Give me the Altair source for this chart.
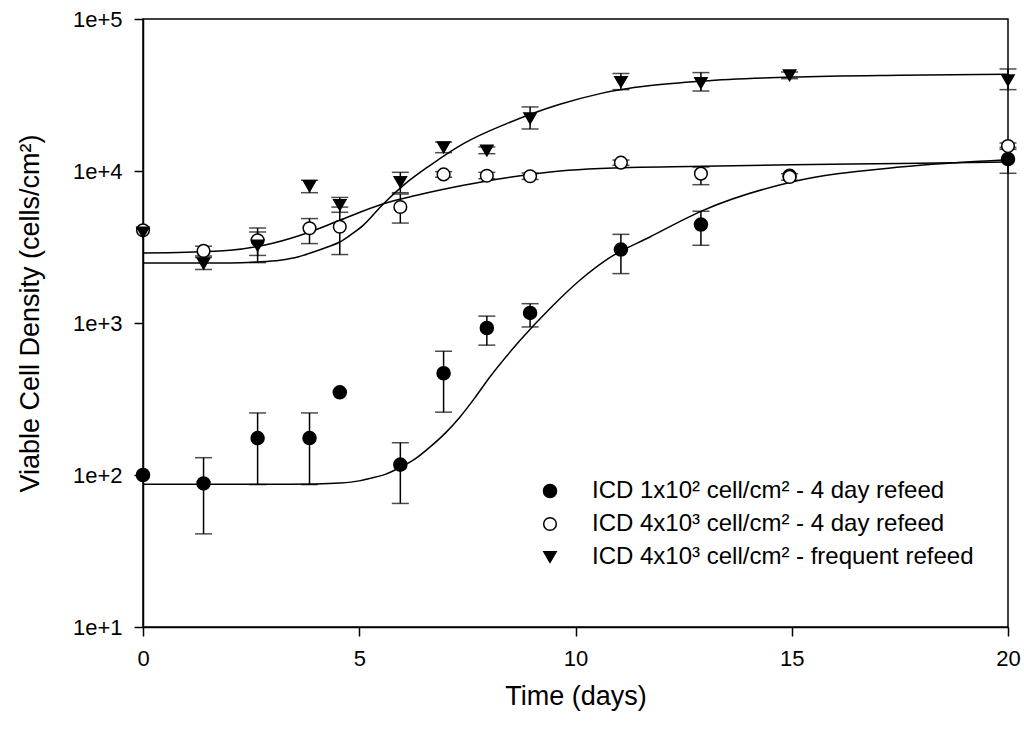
import altair as alt
import pandas as pd

# ---- data ----
series_names = [
    "ICD 1x10² cell/cm² - 4 day refeed",
    "ICD 4x10³ cell/cm² - 4 day refeed",
    "ICD 4x10³ cell/cm² - frequent refeed",
]

days = [0, 1.4, 2.65, 3.85, 4.55, 5.95, 6.95, 7.95, 8.95, 11.05, 12.9, 14.95, 20]

dens_a = [100, 88, 175, 175, 350, 117, 467, 927, 1164, 3040, 4440, 9300, 11990]
lo_a = [None, 41, 86.5, 86.5, None, 65, 259, 715, 942, 2113, 3245, None, 9660]
hi_a = [None, 130, 256, 256, None, 163, 652, 1110, 1340, 3830, 5436, None, 14300]

dens_b = [4074, 2979, 3500, 4200, 4300, 5800, 9500, 9300, 9230, 11350, 9610, 9140, 14590]
lo_b = [None, 2760, 2783, 3330, 2820, 4545, 9100, 8900, 8800, 10900, 8130, 8700, 13900]
hi_b = [None, 3200, 4217, 4864, 5790, 7055, 9900, 9800, 9700, 11800, 10620, 9600, 15300]

dens_c = [3936, 2460, 3230, 7950, 5980, 8470, 14300, 13650, 22200, 38540, 37950, 42660, 39550]
lo_c = [None, 2250, 2496, 7200, 5350, 7200, 13200, 13000, 18900, 34300, 33600, 40500, 34300]
hi_c = [None, 2700, 3970, 8700, 6700, 9800, 15500, 14400, 26400, 43800, 44400, 44800, 46900]

# fitted curves
curve_a_days = [0, 1, 2, 3, 4, 4.55, 5.0, 5.25, 5.6, 5.94, 6.3, 6.64, 7.0, 7.33, 7.7, 8.02, 8.72,
                9.41, 10.1, 10.8, 11.72, 12.95, 15.0, 17.5, 20]
curve_a_dens = [87, 87, 87, 87, 87.3, 88.5, 91.5, 95, 101, 112, 128, 153, 190, 241, 330, 441, 769,
                1245, 1910, 2700, 3680, 5510, 8470, 10620, 11880]

curve_b_days = [0, 1, 2.01, 3, 3.86, 4.55, 5.56, 6.33, 7.41, 8.41, 9.64, 10.57, 12.95, 15, 17.5, 20]
curve_b_dens = [2890, 2920, 3006, 3350, 3970, 4740, 6090, 6920, 8050, 9040, 10000, 10380, 10740, 11000, 11200, 11460]

curve_c_days = [0, 1, 2.01, 2.6, 3.17, 3.6, 3.94, 4.25, 4.55, 4.8, 5.09, 5.56, 6.02, 6.64, 7.41, 8.41,
                9.64, 10.57, 12.95, 15, 17.5, 20]
curve_c_dens = [2480, 2480, 2485, 2520, 2590, 2730, 2930, 3150, 3410, 3800, 4390, 6090, 8050, 10900,
                15140, 20500, 27500, 32290, 39090, 41500, 42700, 43270]

# ---- build tables ----
rows = []
for name, ys, los, his in zip(series_names, [dens_a, dens_b, dens_c], [lo_a, lo_b, lo_c], [hi_a, hi_b, hi_c]):
    for d, y, lo, hi in zip(days, ys, los, his):
        rows.append({"series": name, "day": d, "dens": y, "lo": lo, "hi": hi})
pts = pd.DataFrame(rows)
err = pts.dropna(subset=["lo", "hi"])

crow = []
for name, xs, ys in zip(series_names,
                        [curve_a_days, curve_b_days, curve_c_days],
                        [curve_a_dens, curve_b_dens, curve_c_dens]):
    for d, y in zip(xs, ys):
        crow.append({"series": name, "day": d, "dens": y})
curves = pd.DataFrame(crow)

FONT = "Liberation Sans"

x_scale = alt.Scale(domain=[0, 20], nice=False, zero=False)
y_scale = alt.Scale(type="log", domain=[10, 100000], nice=False)

x_axis = alt.Axis(values=[0, 5, 10, 15, 20], labelFlush=False, labelPadding=12,
                  titleY=69, titleBaseline="middle", titleAnchor="middle")
y_axis = alt.Axis(values=[10, 100, 1000, 10000, 100000], labelFlush=False, labelPadding=12,
                  labelExpr="'1e+' + round(log(datum.value) / LN10)",
                  titleX=-113, titleY=294, titleAngle=270, titleAlign="center",
                  titleBaseline="middle")

X_TITLE = "Time (days)"
Y_TITLE = "Viable Cell Density (cells/cm²)"


def xenc():
    return alt.X("day:Q", scale=x_scale, axis=x_axis, title=X_TITLE)


def yenc(field):
    return alt.Y(f"{field}:Q", scale=y_scale, axis=y_axis, title=Y_TITLE)


lines = alt.Chart(curves).mark_line(color="black", strokeWidth=1.5, interpolate="monotone").encode(
    x=xenc(), y=yenc("dens"), detail="series:N"
)

rules = alt.Chart(err).mark_rule(color="black", strokeWidth=1.5).encode(
    x=xenc(), y=yenc("lo"), y2="hi:Q"
)
caps_lo = alt.Chart(err).mark_tick(color="black", orient="horizontal", size=17, thickness=1.5).encode(
    x=xenc(), y=yenc("lo")
)
caps_hi = alt.Chart(err).mark_tick(color="black", orient="horizontal", size=17, thickness=1.5).encode(
    x=xenc(), y=yenc("hi")
)

legend = alt.Legend(
    title=None, orient="none", legendX=395, legendY=460,
    labelFont=FONT, labelFontSize=24, labelColor="black", labelLimit=600,
    labelOffset=30, rowPadding=9, symbolStrokeColor="black", symbolStrokeWidth=1.5,
)

points = alt.Chart(pts).mark_point(filled=True, strokeWidth=1.5, opacity=1).encode(
    x=xenc(),
    y=yenc("dens"),
    shape=alt.Shape("series:N", scale=alt.Scale(domain=series_names,
                                                range=["circle", "circle", "triangle-down"]),
                    legend=legend),
    fill=alt.Fill("series:N", scale=alt.Scale(domain=series_names,
                                              range=["black", "white", "black"]),
                  legend=legend),
    stroke=alt.Stroke("series:N", scale=alt.Scale(domain=series_names,
                                                  range=["black", "black", "black"]),
                      legend=legend),
    size=alt.Size("series:N", scale=alt.Scale(domain=series_names, range=[170, 150, 250]),
                  legend=legend),
)

chart = alt.layer(lines, rules, caps_lo, caps_hi, points).properties(
    width=865, height=608, autosize="none",
    padding={"left": 143, "top": 19, "right": 16, "bottom": 102},
    background="white",
).configure_view(
    stroke="black", strokeWidth=1.5
).configure_axis(
    grid=False, domainColor="black", domainWidth=1.5, tickColor="black", tickWidth=1.5,
    tickSize=9, labelFont=FONT, labelFontSize=22, labelColor="black",
    titleFont=FONT, titleFontSize=27, titleFontWeight="normal", titleColor="black",
)

chart.save("out.html", embed_options={"renderer": "svg", "actions": False})
